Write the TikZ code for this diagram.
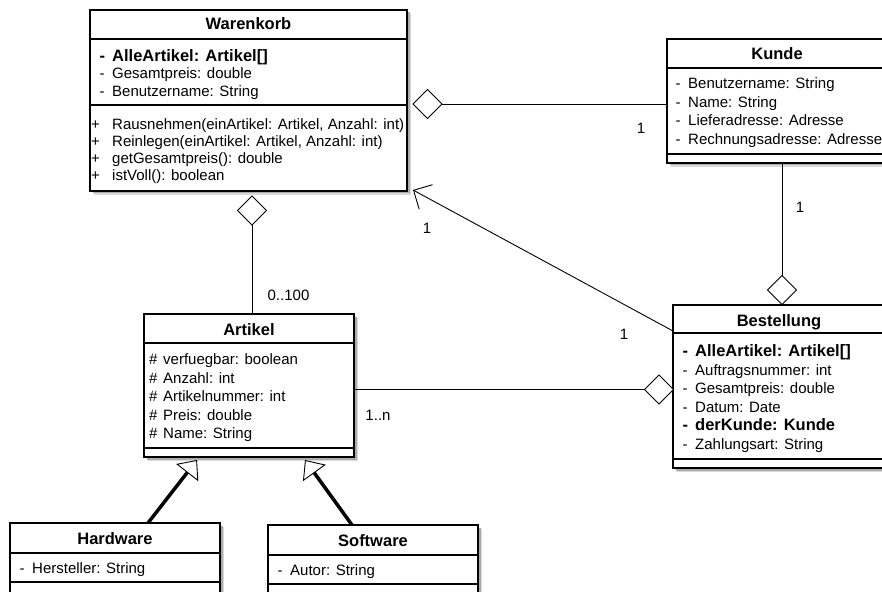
\documentclass[tikz,border=0pt]{standalone}
\usepackage{fontspec}
\setmainfont{Liberation Sans}
\usetikzlibrary{shapes.geometric,arrows.meta,calc}

\newcommand\pv{\makebox[20bp][l]{\hspace*{7.5bp}-}}
\newcommand\pb{\makebox[20bp][l]{\hspace*{-1bp}+}}
\newcommand\prtc{\makebox[17bp][l]{\hspace*{2.8bp}\#}}
\newcommand\rg{\fontsize{15bp}{18bp}\selectfont}
\newcommand\bd{\fontsize{16.5bp}{18bp}\selectfont\bfseries}

% name, x, y, w, h, sep1, sep2
\newcommand\classbox[7]{%
  \fill[gray!30] ({#2+4},{#3+4}) rectangle ++(#4,#5);
  \fill[gray!65] ({#2+2.5},{#3+2.5}) rectangle ++(#4,#5);
  \node[cls, minimum width=#4bp, minimum height=#5bp] (#1) at (#2,#3) {};
  \draw[sepline] ($(#1.north west)+(0,#6)$) -- ($(#1.north east)+(0,#6)$);
  \draw[sepline] ($(#1.north west)+(0,#7)$) -- ($(#1.north east)+(0,#7)$);
}

\tikzset{
  cls/.style={draw, line width=1.2bp, fill=white, anchor=north west, inner sep=0pt, outer sep=0pt},
  sepline/.style={line width=1.2bp},
  ttl/.style={font=\bd, anchor=base, inner sep=0pt},
  row/.style={font=\rg, anchor=base west, inner sep=0pt},
  agg/.style={diamond, draw, fill=white, line width=0.9bp, minimum width=29bp, minimum height=29bp, aspect=1, inner sep=0pt, outer sep=0pt},
  conn/.style={line width=0.9bp},
  gen/.style={line width=3.5bp, -{Triangle[open, length=16bp, width=28bp, line width=0.9bp]}},
  lbl/.style={font=\rg, anchor=center, inner sep=0pt},
}

\begin{document}
\begin{tikzpicture}[x=1bp, y=-1bp]
\useasboundingbox (0,0) rectangle (882,592);
\clip (0,0) rectangle (882,592);

% ---------- Warenkorb ----------
\classbox{wk}{90}{10}{317}{181}{29}{95}
\node[ttl] (wk-t) at (248.5,30) {Warenkorb};
\foreach \t [count=\i from 0] in {{\bd\pv AlleArtikel: Artikel[]},{\pv Gesamtpreis: double},{\pv Benutzername: String}}
  \node[row] (wk-a\i) at (92,{61.5+17.5*\i}) {\t};
\foreach \t [count=\i from 0] in {{\pb Rausnehmen(einArtikel: Artikel, Anzahl: int)},{\pb Reinlegen(einArtikel: Artikel, Anzahl: int)},{\pb getGesamtpreis(): double},{\pb istVoll(): boolean}}
  \node[row] (wk-m\i) at (92,{130+17*\i}) {\t};

% ---------- Kunde ----------
\classbox{ku}{667}{39}{220}{124}{29}{115}
\node[ttl] (ku-t) at (777,60) {Kunde};
\foreach \t [count=\i from 0] in {{\pv Benutzername: String},{\pv Name: String},{\pv Lieferadresse: Adresse},{\pv Rechnungsadresse: Adresse}}
  \node[row] (ku-a\i) at (668,{89+18.5*\i}) {\t};

% ---------- Bestellung ----------
\classbox{bs}{673}{305}{212}{163}{28}{154}
\node[ttl] (bs-t) at (779,326) {Bestellung};
\foreach \t [count=\i from 0] in {{\bd\pv AlleArtikel: Artikel[]},{\pv Auftragsnummer: int},{\pv Gesamtpreis: double},{\pv Datum: Date},{\bd\pv derKunde: Kunde},{\pv Zahlungsart: String}}
  \node[row] (bs-a\i) at (675,{356.5+18.5*\i}) {\t};

% ---------- Artikel ----------
\classbox{ar}{144}{314}{210}{143}{29}{134}
\node[ttl] (ar-t) at (249,335) {Artikel};
\foreach \t [count=\i from 0] in {{\prtc verfuegbar: boolean},{\prtc Anzahl: int},{\prtc Artikelnummer: int},{\prtc Preis: double},{\prtc Name: String}}
  \node[row] (ar-a\i) at (146,{364.5+18.5*\i}) {\t};

% ---------- Hardware ----------
\classbox{hw}{10}{523}{210}{100}{30}{59}
\node[ttl] (hw-t) at (115,544.5) {Hardware};
\node[row] (hw-a0) at (12,573.5) {\pv Hersteller: String};

% ---------- Software ----------
\classbox{sw}{268}{525}{210}{100}{30}{59}
\node[ttl] (sw-t) at (373,546.5) {Software};
\node[row] (sw-a0) at (270,575.5) {\pv Autor: String};

% ---------- connectors ----------
\node[agg] (d1) at (427.5,104) {};
\node[agg] (d2) at (252,210.5) {};
\node[agg] (d3) at (782,290) {};
\node[agg] (d4) at (659,389.5) {};

\draw[conn] (d1.east) -- (d1.east -| ku.west);
\draw[conn] (d2.south) -- (d2.south |- ar.north);
\draw[conn] (d3.north |- ku.south) -- (d3.north);
\draw[conn] (d4.west -| ar.east) -- (d4.west);

\coordinate (wk-c) at (413,190);
\coordinate (bs-l) at (673,331);
\draw[conn, -{Straight Barb[length=14bp, width=28bp, line width=0.9bp]}] (bs-l) -- (wk-c);

\coordinate (g1) at (197,460);
\coordinate (g2) at (305,460);
\draw[gen] ($(hw.north west)+(138,0)$) -- (g1);
\draw[gen] ($(sw.north west)+(84,0)$) -- (g2);

% ---------- multiplicities ----------
\node[lbl] (l1) at (641,128) {1};
\node[lbl] (l2) at (800,207) {1};
\node[lbl] (l3) at (288.5,295) {0..100};
\node[lbl] (l4) at (427,228) {1};
\node[lbl] (l5) at (624,334) {1};
\node[lbl] (l6) at (378,415) {1..n};
\end{tikzpicture}
\end{document}
